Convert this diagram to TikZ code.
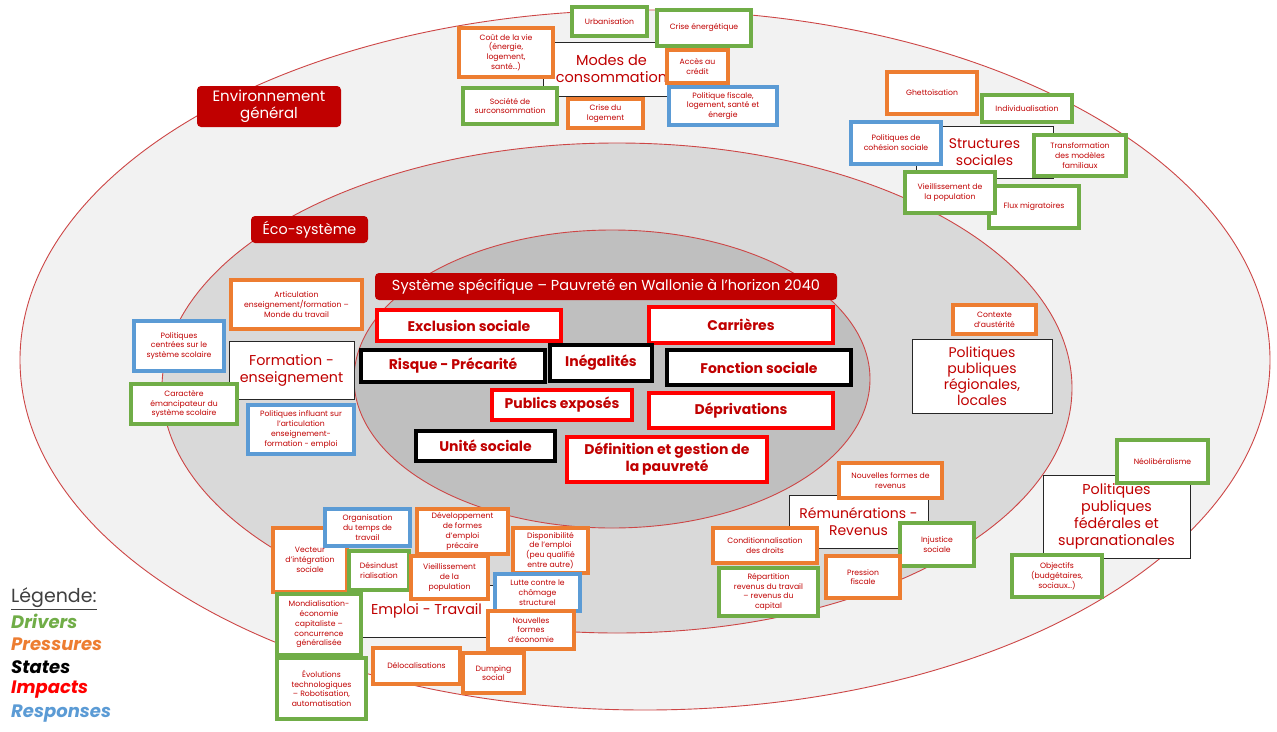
\documentclass[tikz,border=0pt]{standalone}
\usepackage{fontspec}
\setmainfont{Poppins}
\usetikzlibrary{shadows}

\definecolor{drvgreen}{HTML}{70AD47}
\definecolor{prsorange}{HTML}{ED7D31}
\definecolor{rspblue}{HTML}{5B9BD5}
\definecolor{impred}{HTML}{FF0000}
\definecolor{txtred}{HTML}{C00000}
\definecolor{bannerred}{HTML}{C00000}
\definecolor{ringline}{RGB}{205,70,70}
\definecolor{ringouter}{HTML}{F2F2F2}
\definecolor{ringmid}{HTML}{D9D9D9}
\definecolor{ringinner}{HTML}{BFBFBF}
\definecolor{legendgray}{HTML}{404040}

\tikzset{
  ring/.style={draw=ringline, line width=0.9pt},
  cardbase/.style={rectangle, fill=white, align=center, inner sep=1pt, text=txtred},
  smalltext/.style={font=\fontsize{7.7}{9.8}\selectfont},
  drv/.style={cardbase, smalltext, draw=drvgreen, line width=3.2pt},
  prs/.style={cardbase, smalltext, draw=prsorange, line width=3.2pt},
  rsp/.style={cardbase, smalltext, draw=rspblue, line width=3.2pt},
  hub/.style={cardbase, draw=black!85, line width=1pt,
    font=\fontsize{14}{16.5}\selectfont,
    drop shadow={shadow xshift=1.2pt, shadow yshift=-1.2pt, fill=black!45, opacity=0.8}},
  imp/.style={cardbase, draw=impred, line width=3.2pt, font=\fontsize{14}{17}\selectfont\bfseries},
  sta/.style={cardbase, draw=black, line width=3.2pt, font=\fontsize{14}{17}\selectfont\bfseries},
  banner/.style={rectangle, rounded corners=4pt, fill=bannerred, text=white, align=center, inner sep=1pt},
  legendline/.style={anchor=west, inner sep=0pt, font=\fontsize{18}{20}\selectfont\bfseries\itshape},
}

% place a node by its top-left and bottom-right corners (pixel grid, y downwards)
\newcommand\placebox[7]{%
  \node[#1, minimum width={(#5-#3)*1pt}, minimum height={(#6-#4)*1pt}]
    (#2) at ({(#3+#5)/2},{(#4+#6)/2}) {#7};}

\begin{document}
\begin{tikzpicture}[x=1pt, y=-1pt]
\useasboundingbox (0,0) rectangle (1277,731);
\fill[white] (0,0) rectangle (1277,731);

% nested system rings
\filldraw[ring, fill=ringouter] (645,360) ellipse [x radius=625pt, y radius=350pt];
\filldraw[ring, fill=ringmid] (617,388) ellipse [x radius=455pt, y radius=245pt];
\filldraw[ring, fill=ringinner] (612,379) ellipse [x radius=258pt, y radius=149pt];

% ring titles
\placebox{banner, font=\fontsize{15}{17}\selectfont}{envlabel}{197}{86}{341}{127}{Environnement\\général}
\placebox{banner, font=\fontsize{14.3}{17}\selectfont}{ecolabel}{251}{216}{368}{243}{Éco-système}
\placebox{banner, font=\fontsize{14.5}{16}\selectfont}{syslabel}{375}{273}{837}{300}{Système spécifique – Pauvreté en Wallonie à l’horizon 2040}

% consumption cluster
\placebox{hub, font=\fontsize{14.5}{17}\selectfont}{modes}{543}{42}{680}{96}{Modes de\\consommation}
\placebox{drv}{urban}{572}{7}{647}{36}{Urbanisation}
\placebox{drv}{crisen}{657}{10}{751}{46}{Crise énergétique}
\placebox{prs}{cout}{459}{28}{553}{77}{Coût de la vie\\(énergie,\\logement,\\santé…)}
\placebox{prs}{credit}{667}{50}{728}{83}{Accès au\\crédit}
\placebox{drv}{surcons}{463}{88}{557}{124}{Société de\\surconsommation}
\placebox{prs}{crislog}{568}{99}{643}{128}{Crise du\\logement}
\placebox{rsp}{polfisc}{669}{87}{777}{125}{Politique fiscale,\\logement, santé et\\énergie}

% social structures cluster
\placebox{hub, font=\fontsize{14}{17}\selectfont}{structs}{916}{126}{1053}{178}{Structures\\sociales}
\placebox{prs}{ghetto}{887}{72}{977}{114}{Ghettoïsation}
\placebox{drv}{indiv}{982}{95}{1072}{122}{Individualisation}
\placebox{rsp}{cohes}{851}{122}{941}{164}{Politiques de\\cohésion sociale}
\placebox{drv}{transf}{1034}{135}{1126}{176}{Transformation\\des modèles\\familiaux}
\placebox{drv}{flux}{989}{186}{1079}{228}{Flux migratoires}
\placebox{drv}{vieilpop}{905}{172}{995}{213}{Vieillissement de\\la population}

% education cluster
\placebox{hub, font=\fontsize{14.3}{17}\selectfont}{formation}{229}{341}{354}{399}{Formation -\\enseignement}
\placebox{prs}{artic}{231}{280}{362}{329}{Articulation\\enseignement/formation –\\Monde du travail}
\placebox{rsp}{polcent}{134}{321}{224}{371}{Politiques\\centrées sur le\\système scolaire}
\placebox{drv}{emanc}{131}{384}{237}{424}{Caractère\\émancipateur du\\système scolaire}
\placebox{rsp}{polinf}{248}{405}{354}{454}{Politiques influant sur\\l’articulation\\enseignement-\\formation - emploi}

% core: states and impacts
\placebox{imp}{excl}{377}{310}{561}{341}{Exclusion sociale}
\placebox{imp}{carr}{649}{307}{833}{343}{Carrières}
\placebox{sta}{risque}{361}{350}{545}{382}{Risque - Précarité}
\placebox{sta}{inegal}{550}{345}{652}{381}{Inégalités}
\placebox{sta}{fonction}{667}{350}{851}{385}{Fonction sociale}
\placebox{imp}{publics}{492}{390}{632}{420}{Publics exposés}
\placebox{imp}{depriv}{649}{393}{833}{428}{Déprivations}
\placebox{sta}{unite}{416}{431}{555}{461}{Unité sociale}
\placebox{imp}{defin}{567}{437}{767}{482}{Définition et gestion de\\la pauvreté}

% regional policies
\placebox{hub, font=\fontsize{14}{16}\selectfont}{polreg}{912}{339}{1052}{413}{Politiques\\publiques\\régionales,\\locales}
\placebox{prs}{austerite}{953}{305}{1036}{334}{Contexte\\d’austérité}

% income cluster
\placebox{hub}{remun}{789}{495}{928}{548}{Rémunérations -\\Revenus}
\placebox{prs}{nouvrev}{839}{463}{942}{498}{Nouvelles formes de\\revenus}
\placebox{prs}{condit}{713}{528}{817}{563}{Conditionnalisation\\des droits}
\placebox{drv}{injust}{900}{523}{974}{566}{Injustice\\sociale}
\placebox{prs}{pression}{826}{556}{900}{598}{Pression\\fiscale}
\placebox{drv}{repart}{719}{568}{818}{616}{Répartition\\revenus du travail\\– revenus du\\capital}

% federal policies
\placebox{hub, font=\fontsize{14.3}{16.8}\selectfont}{polfed}{1043}{475}{1190}{558}{Politiques\\publiques\\fédérales et\\supranationales}
\placebox{drv}{neolib}{1117}{440}{1208}{483}{Néolibéralisme}
\placebox{drv}{objectifs}{1012}{555}{1102}{597}{Objectifs\\(budgétaires,\\sociaux…)}

% employment cluster
\placebox{hub, font=\fontsize{14.3}{17}\selectfont}{emploi}{358}{585}{495}{637}{Emploi - Travail}
\placebox{prs}{vecteur}{273}{528}{347}{592}{Vecteur\\d’intégration\\sociale}
\placebox{rsp}{orga}{325}{509}{410}{546}{Organisation\\du temps de\\travail}
\placebox{prs}{devel}{417}{509}{508}{554}{Développement\\de formes\\d’emploi\\précaire}
\placebox{drv}{desind}{349}{551}{409}{590}{Désindust\\rialisation}
\placebox{prs}{vieiltrav}{411}{556}{488}{599}{Vieillissement\\de la\\population}
\placebox{prs}{dispo}{513}{528}{588}{573}{Disponibilité\\de l’emploi\\(peu qualifié\\entre autre)}
\placebox{rsp}{lutte}{495}{574}{580}{611}{Lutte contre le\\chômage\\structurel}
\placebox{drv}{mondial}{277}{594}{361}{655}{Mondialisation-\\économie\\capitaliste –\\concurrence\\généralisée}
\placebox{prs}{nouveco}{488}{611}{574}{649}{Nouvelles\\formes\\d’économie}
\placebox{prs}{deloc}{373}{648}{460}{684}{Délocalisations}
\placebox{prs}{dumping}{463}{653}{524}{693}{Dumping\\social}
\placebox{drv}{evol}{277}{658}{366}{719}{Évolutions\\technologiques\\– Robotisation,\\automatisation}

% legend
\node[anchor=west, inner sep=0pt, text=legendgray, font=\fontsize{19}{20}\selectfont] (legtitle) at (11,599) {\underline{Légende:}};
\node[legendline, text=drvgreen] (legdrv) at (11,621) {Drivers};
\node[legendline, text=prsorange] (legprs) at (11,644) {Pressures};
\node[legendline, text=black] (legsta) at (11,667) {States};
\node[legendline, text=impred] (legimp) at (11,690) {Impacts};
\node[legendline, text=rspblue] (legrsp) at (11,714) {Responses};
\end{tikzpicture}
\end{document}
